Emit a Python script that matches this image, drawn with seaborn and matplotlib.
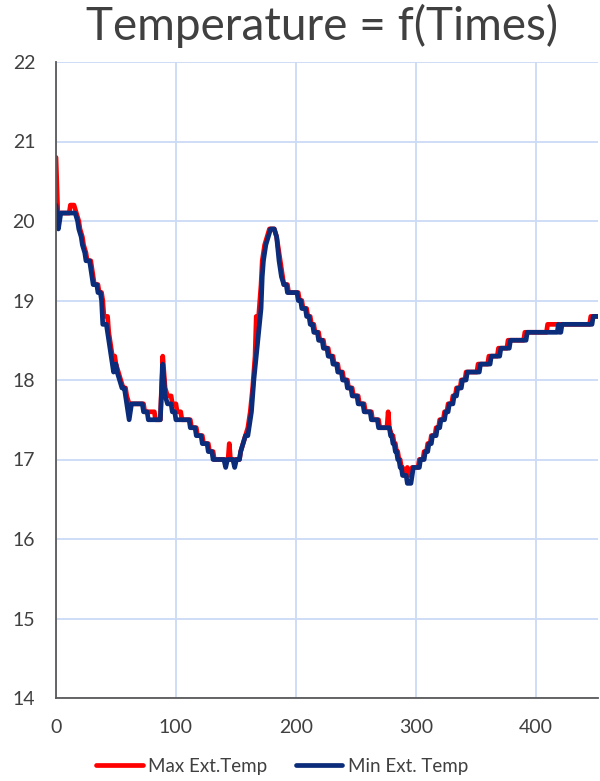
import numpy as np
import pandas as pd
import matplotlib.pyplot as plt
import seaborn as sns
from matplotlib.lines import Line2D

# Max Ext.Temp (red) - time / temperature vertices
time_max = [0, 1.5, 11, 12, 15, 17, 19, 20, 22, 23, 25, 26, 29, 30, 31, 32, 35, 36, 38, 39,
            40, 43, 44, 45, 46, 47, 49, 50, 52, 54, 56, 58, 59, 61, 63, 73, 74, 82, 83, 87,
            89, 91, 93, 96, 97, 100, 101, 104, 105, 112, 113, 117, 118, 122, 123, 127, 128, 131, 132, 143.5,
            144.5, 145.5, 153, 154, 156, 158, 160, 162, 164, 166, 167, 169, 171, 172, 174, 176, 178, 182, 184, 186,
            188, 190, 193, 194, 202, 203, 205, 206, 209, 210, 212, 213, 215, 216, 219, 220, 223, 224, 227, 228,
            231, 232, 235, 236, 239, 240, 243, 244, 247, 248, 252, 253, 257, 258, 263, 264, 269, 270, 276, 277,
            278, 280, 281, 282, 283, 284, 285, 286, 287, 288, 289, 290, 292, 293, 294, 296, 297, 302, 303, 306,
            307, 309, 310, 312, 313, 316, 317, 319, 320, 323, 324, 326, 327, 330, 331, 333, 334, 337, 338, 341,
            342, 351, 352, 360, 361, 368, 369, 376, 377, 390, 391, 409, 410, 445, 446, 452]
temp_max = [20.8, 20.1, 20.1, 20.2, 20.2, 20.1, 20.0, 19.9, 19.8, 19.7, 19.6, 19.5, 19.5, 19.4, 19.3, 19.2, 19.2, 19.1, 19.1, 19.0,
            18.8, 18.8, 18.6, 18.5, 18.4, 18.3, 18.3, 18.2, 18.1, 18.0, 17.9, 17.9, 17.8, 17.7, 17.7, 17.7, 17.6, 17.6, 17.5, 17.5,
            18.3, 17.9, 17.8, 17.8, 17.7, 17.7, 17.6, 17.6, 17.5, 17.5, 17.4, 17.4, 17.3, 17.3, 17.2, 17.2, 17.1, 17.1, 17.0, 17.0,
            17.2, 17.0, 17.0, 17.1, 17.2, 17.3, 17.4, 17.6, 17.9, 18.3, 18.8, 18.8, 19.2, 19.5, 19.7, 19.8, 19.9, 19.9, 19.8, 19.6,
            19.4, 19.2, 19.2, 19.1, 19.1, 19.0, 19.0, 18.9, 18.9, 18.8, 18.8, 18.7, 18.7, 18.6, 18.6, 18.5, 18.5, 18.4, 18.4, 18.3,
            18.3, 18.2, 18.2, 18.1, 18.1, 18.0, 18.0, 17.9, 17.9, 17.8, 17.8, 17.7, 17.7, 17.6, 17.6, 17.5, 17.5, 17.4, 17.4, 17.6,
            17.4, 17.3, 17.3, 17.2, 17.2, 17.1, 17.1, 17.0, 17.0, 16.9, 16.9, 16.8, 16.8, 16.9, 16.8, 16.8, 16.9, 16.9, 17.0, 17.0,
            17.1, 17.1, 17.2, 17.2, 17.3, 17.3, 17.4, 17.4, 17.5, 17.5, 17.6, 17.6, 17.7, 17.7, 17.8, 17.8, 17.9, 17.9, 18.0, 18.0,
            18.1, 18.1, 18.2, 18.2, 18.3, 18.3, 18.4, 18.4, 18.5, 18.5, 18.6, 18.6, 18.7, 18.7, 18.8, 18.8]

# Min Ext. Temp (dark blue)
time_min = [0, 2, 4, 16, 18, 19, 21, 22, 24, 25, 28, 29, 30, 31, 34, 35, 37, 38, 39, 42,
            43, 44, 45, 46, 47, 48, 50, 51, 53, 55, 57, 58, 59, 61, 63, 72, 73, 76, 77, 87,
            89, 91, 93, 96, 97, 99, 100, 111, 112, 116, 117, 121, 122, 126, 127, 130, 131, 140, 141.5, 143,
            147.5, 149, 150.5, 153, 154, 156, 158, 160, 161, 163, 165, 167, 169, 171, 172, 173, 175, 177, 179, 182,
            184, 186, 188, 190, 192, 193, 201, 202, 204, 205, 208, 209, 211, 212, 214, 215, 218, 219, 222, 223,
            226, 227, 230, 231, 234, 235, 238, 239, 242, 243, 246, 247, 251, 252, 256, 257, 262, 263, 268, 269,
            278, 279, 280, 281, 282, 283, 284, 285, 286, 287, 288, 289, 292, 293, 296, 298, 303, 304, 307, 308,
            310, 311, 313, 314, 317, 318, 320, 321, 324, 325, 327, 328, 331, 332, 334, 335, 338, 339, 342, 343,
            353, 354, 362, 363, 370, 371, 378, 379, 392, 393, 418, 419, 420, 421, 422, 447, 448, 452]
temp_min = [20.2, 19.9, 20.1, 20.1, 20.0, 19.9, 19.8, 19.7, 19.6, 19.5, 19.5, 19.4, 19.3, 19.2, 19.2, 19.1, 19.1, 19.0, 18.7, 18.7,
            18.6, 18.5, 18.4, 18.3, 18.2, 18.1, 18.2, 18.1, 18.0, 17.9, 17.9, 17.8, 17.7, 17.5, 17.7, 17.7, 17.6, 17.6, 17.5, 17.5,
            18.2, 17.8, 17.7, 17.7, 17.6, 17.6, 17.5, 17.5, 17.4, 17.4, 17.3, 17.3, 17.2, 17.2, 17.1, 17.1, 17.0, 17.0, 16.9, 17.0,
            17.0, 16.9, 17.0, 17.0, 17.1, 17.2, 17.3, 17.3, 17.4, 17.6, 18.0, 18.3, 18.6, 18.9, 19.3, 19.5, 19.7, 19.8, 19.9, 19.9,
            19.8, 19.5, 19.3, 19.2, 19.2, 19.1, 19.1, 19.0, 19.0, 18.9, 18.9, 18.8, 18.8, 18.7, 18.7, 18.6, 18.6, 18.5, 18.5, 18.4,
            18.4, 18.3, 18.3, 18.2, 18.2, 18.1, 18.1, 18.0, 18.0, 17.9, 17.9, 17.8, 17.8, 17.7, 17.7, 17.6, 17.6, 17.5, 17.5, 17.4,
            17.4, 17.3, 17.3, 17.2, 17.2, 17.1, 17.1, 17.0, 17.0, 16.9, 16.9, 16.8, 16.8, 16.7, 16.7, 16.9, 16.9, 17.0, 17.0, 17.1,
            17.1, 17.2, 17.2, 17.3, 17.3, 17.4, 17.4, 17.5, 17.5, 17.6, 17.6, 17.7, 17.7, 17.8, 17.8, 17.9, 17.9, 18.0, 18.0, 18.1,
            18.1, 18.2, 18.2, 18.3, 18.3, 18.4, 18.4, 18.5, 18.5, 18.6, 18.6, 18.7, 18.6, 18.6, 18.7, 18.7, 18.8, 18.8]

series_names = ["Max Ext.Temp", "Min Ext. Temp"]
colors = ["#FF0000", "#0B2C7A"]

df = pd.concat([
    pd.DataFrame({"time": time_max, "temp": temp_max, "series": series_names[0]}),
    pd.DataFrame({"time": time_min, "temp": temp_min, "series": series_names[1]}),
], ignore_index=True)

sns.set_style("white")
plt.rcParams['font.family'] = ['Lato', 'DejaVu Sans']
text_color = "#404040"

fig = plt.figure(figsize=(6, 7.81), dpi=100)
ax = fig.add_axes([56 / 600, 83 / 781, 542 / 600, 636 / 781])

sns.lineplot(data=df, x="time", y="temp", hue="series", palette=colors, sort=False,
             estimator=None, linewidth=3.4, ax=ax, legend=False)

ax.set_xlim(0, 452)
ax.set_ylim(14, 22)
ax.set_xticks([0, 100, 200, 300, 400])
ax.set_yticks(range(14, 23))
ax.grid(True, color="#CADAF7", linewidth=1.3)
ax.set_axisbelow(True)
ax.set_xlabel("")
ax.set_ylabel("")
for side in ["top", "right"]:
    ax.spines[side].set_visible(False)
for side in ["left", "bottom"]:
    ax.spines[side].set_color("#595959")
    ax.spines[side].set_linewidth(1.3)
ax.tick_params(axis="both", length=0, labelsize=14, colors=text_color, pad=15)

fig.suptitle("Temperature = f(Times)", x=0.537, y=0.995, va="top", fontsize=33, color=text_color)

handles = [Line2D([0], [0], color=c, linewidth=3.4) for c in colors]
fig.legend(handles, series_names, loc="center", bbox_to_anchor=(0.47, 0.019), ncol=2,
           frameon=False, fontsize=13.5, handlelength=2.5, handletextpad=0.3, columnspacing=1.5,
           labelcolor=text_color)

fig.savefig("out.png", dpi=100)
